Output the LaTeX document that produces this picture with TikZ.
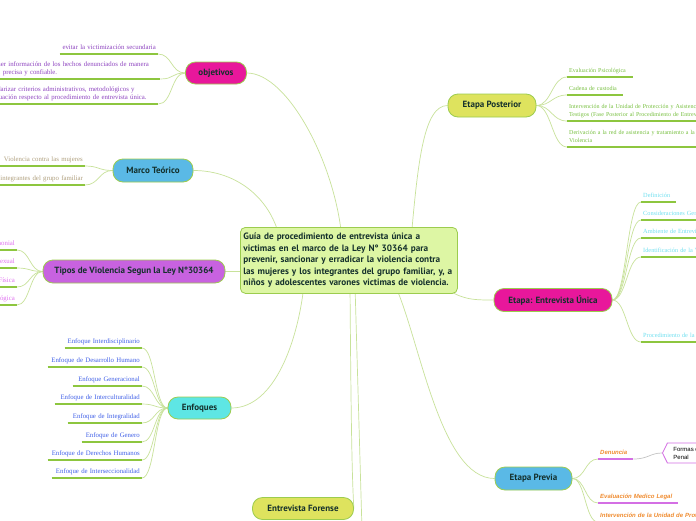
\documentclass[tikz,border=0pt]{standalone}
\usepackage{fontspec}
\setmainfont{Liberation Serif}
\newfontfamily\nodefont{PT Sans}
\newfontfamily\leaffont{Liberation Serif}
\newfontfamily\sansleaf{Liberation Sans}
\usetikzlibrary{shapes.symbols}
\definecolor{edgec}{HTML}{C8E29A}
\definecolor{ulc}{HTML}{8DC63F}
\definecolor{ulpurple}{HTML}{D46FE4}
\definecolor{nbord}{HTML}{9CCC4E}
\definecolor{ntext}{HTML}{14302C}
\definecolor{cfill}{HTML}{DDF6A4}
\definecolor{magentaC}{HTML}{E8179B}
\definecolor{blueC}{HTML}{5AB9E6}
\definecolor{purpleC}{HTML}{C862E0}
\definecolor{cyanC}{HTML}{5EE6E4}
\definecolor{yellowC}{HTML}{DEE35E}
\definecolor{tpurple}{HTML}{8E44C0}
\definecolor{ttan}{HTML}{B0A07E}
\definecolor{tpink}{HTML}{E070F0}
\definecolor{tblue}{HTML}{4060E8}
\definecolor{tgreen}{HTML}{78C040}
\definecolor{tcyan}{HTML}{70E0F0}
\definecolor{torange}{HTML}{F08C30}
\definecolor{greyc}{HTML}{C4C4C4}
\pgfdeclarelayer{bg}
\pgfsetlayers{bg,main}
\tikzset{
  conn/.style={draw=edgec, line width=0.7pt},
  uline/.style={draw=ulc, line width=1.6pt},
  mainnode/.style={draw=nbord, line width=0.8pt, rounded corners=10pt,
    font=\nodefont\bfseries\fontsize{9}{11}\selectfont, text=ntext,
    inner sep=0pt, minimum height=22pt},
  leaf/.style={font=\leaffont\fontsize{6.8}{8}\selectfont, inner xsep=2pt,
    inner ysep=2pt, execute at end node={\strut},
    append after command={(\tikzlastnode.south west) edge[uline] (\tikzlastnode.south east)}},
  lleaf/.style={leaf, anchor=south east, align=right, text width=#1},
  rleaf/.style={leaf, anchor=south west, align=left, text width=#1},
  lbleaf/.style={leaf, anchor=south west, align=left, text width=#1},
  gfont/.style={font=\leaffont\fontsize{6}{7.6}\selectfont},
  cfont/.style={font=\leaffont\fontsize{6.3}{7.6}\selectfont},
  pleaf/.style={font=\sansleaf\bfseries\itshape\fontsize{6}{7.5}\selectfont,
    text=torange, inner xsep=2pt, inner ysep=2pt, execute at end node={\strut},
    anchor=south west, align=left, text width=#1,
    append after command={(\tikzlastnode.south west) edge[uline, draw=ulpurple] (\tikzlastnode.south east)}},
}
\begin{document}
\begin{tikzpicture}[x=1pt,y=-1pt]
\useasboundingbox (0,0) rectangle (696,520);
\clip (0,0) rectangle (696,520);

% central node
\node[draw=nbord, line width=0.8pt, fill=cfill, rounded corners=5pt, anchor=north west,
  minimum width=217pt, minimum height=66pt, inner sep=3pt, text width=211pt, align=left,
  font=\nodefont\bfseries\fontsize{9.2}{11.5}\selectfont, text=ntext] (c) at (240,227)
  {Guía de procedimiento de entrevista única a\\
   victimas en el marco de la Ley N° 30364 para\\
   prevenir, sancionar y erradicar la violencia contra\\
   las mujeres y los integrantes del grupo familiar, y, a\\
   niños y adolescentes varones victimas de violencia.};

% main nodes
\node[mainnode, fill=magentaC, minimum width=61pt] (obj) at (216,73) {objetivos};
\node[mainnode, fill=blueC, minimum width=80pt, minimum height=23pt] (marco) at (153,170.5) {Marco Teórico};
\node[mainnode, fill=purpleC, minimum width=182pt, minimum height=23pt] (tipos) at (134,271.5) {Tipos de Violencia Segun la Ley N°30364};
\node[mainnode, fill=cyanC, minimum width=63pt] (enf) at (199.5,408) {Enfoques};
\node[mainnode, fill=yellowC, minimum width=101pt] (for) at (303,508.5) {Entrevista Forense};
\node[mainnode, fill=yellowC, minimum width=88pt, minimum height=23pt] (post) at (492,105.5) {Etapa Posterior};
\node[mainnode, fill=magentaC, minimum width=118pt, minimum height=23pt] (uni) at (553,300) {Etapa: Entrevista Única};
\node[mainnode, fill=blueC, minimum width=77pt, minimum height=23pt] (prev) at (533.5,478.5) {Etapa Previa};

% inner start points of connectors
\coordinate (cObj) at (342,240);
\coordinate (cMarco) at (280,240);
\coordinate (cEnf) at (304,285);
\coordinate (cFor) at (350,285);
\coordinate (cOff) at (355,285);
\coordinate (offEnd) at (362,530);
\coordinate (cPrev) at (395,285);
\coordinate (cUni) at (440,285);
\coordinate (cPost) at (411,240);

% objetivos leaves
\node[lleaf=94pt, text=tpurple] (o1) at (158,54) {evitar la victimización secundaria};
\node[lbleaf=174pt, text=tpurple] (o2) at (-18,79) {Obtener información de los hechos denunciados de manera\\ veraz, precisa y confiable.};
\node[lbleaf=174pt, text=tpurple] (o3) at (-20,104) {Estandarizar criterios administrativos, metodológicos y\\ de actuación respecto al procedimiento de entrevista única.};

% marco leaves
\node[lleaf=150pt, text=ttan] (m1) at (85,166) {Violencia contra las mujeres};
\node[lleaf=150pt, text=ttan] (m2) at (85,185) {Violencia contra los integrantes del grupo familiar};

% tipos leaves
\node[lleaf=120pt, text=tpink] (t1) at (17,250) {Violencia Económica o Patrimonial};
\node[lleaf=120pt, text=tpink] (t2) at (17,268) {Violencia Sexual};
\node[lleaf=120pt, text=tpink] (t3) at (17,287) {Violencia Física};
\node[lleaf=120pt, text=tpink] (t4) at (17,305) {Violencia Psicológica};

% enfoques leaves
\node[lleaf=73pt, text=tblue] (e1) at (142,348) {Enfoque Interdisciplinario};
\node[lleaf=90pt, text=tblue] (e2) at (142,367) {Enfoque de Desarrollo Humano};
\node[lleaf=65pt, text=tblue] (e3) at (142,386) {Enfoque Generacional};
\node[lleaf=83pt, text=tblue] (e4) at (142,404) {Enfoque de Interculturalidad};
\node[lleaf=70pt, text=tblue] (e5) at (142,423) {Enfoque de Integralidad};
\node[lleaf=56pt, text=tblue] (e6) at (142,442) {Enfoque de Genero};
\node[lleaf=90pt, text=tblue] (e7) at (142,460) {Enfoque de Derechos Humanos};
\node[lleaf=86pt, text=tblue] (e8) at (142,478) {Enfoque de Interseccionalidad};

% posterior leaves
\node[rleaf=62pt, gfont, text=tgreen] (p1) at (567,77) {Evaluación Psicológica};
\node[rleaf=52pt, gfont, text=tgreen] (p2) at (567,95) {Cadena de custodia};
\node[rleaf=220pt, gfont, text=tgreen] (p3) at (567,121) {Intervención de la Unidad de Protección y Asistencia a Víctimas y\\ Testigos (Fase Posterior al Procedimiento de Entrevista Única)};
\node[rleaf=220pt, gfont, text=tgreen] (p4) at (567,147) {Derivación a la red de asistencia y tratamiento a la Víctima de\\ Violencia};

% entrevista unica leaves
\node[rleaf=31pt, cfont, text=tcyan] (u1) at (641,202) {Definición};
\node[rleaf=110pt, cfont, text=tcyan] (u2) at (641,220) {Consideraciones Generales};
\node[rleaf=110pt, cfont, text=tcyan] (u3) at (641,238) {Ambiente de Entrevista};
\node[rleaf=110pt, cfont, text=tcyan] (u4) at (641,257) {Identificación de la Víctima};
\node[rleaf=140pt, cfont, text=tcyan] (u5) at (641,342) {Procedimiento de la Entrevista Única};

% etapa previa leaves
\node[pleaf=31pt] (d1) at (598,459) {Denuncia};
\node[pleaf=76pt] (d2) at (598,503) {Evaluación Medico Legal};
\node[pleaf=320pt] (d3) at (598,522) {Intervención de la Unidad de Protección y Asistencia a Víctimas y Testigos};
\node[shape=signal, signal to=west and east, signal pointer angle=127, draw=ulpurple, line width=0.8pt,
  fill=white, anchor=west, minimum height=20pt, inner xsep=6pt, inner ysep=2pt, align=left,
  font=\sansleaf\fontsize{6}{8}\selectfont, text=black] (form) at (662,453)
  {Formas de Inicio del Proceso\\Penal};

\begin{pgfonlayer}{bg}
\fill[white] (0,0) rectangle (696,520);
% central to main
\draw[conn] (obj.east) .. controls (288,73) and (336,165) .. (cObj);
\draw[conn] (marco.east) .. controls (238,170.5) and (272,200) .. (cMarco);
\draw[conn] (tipos.east) -- (c.west |- tipos.east);
\draw[conn] (enf.east) .. controls (275,408) and (298,340) .. (cEnf);
\draw[conn] (cFor) .. controls (351,420) and (352,480) .. (for.east);
\draw[conn] (cOff) -- (offEnd);
\draw[conn] (cPrev) .. controls (420,340) and (440,478.5) .. (prev.west);
\draw[conn] (cUni) .. controls (462,300) and (472,300) .. (uni.west);
\draw[conn] (cPost) .. controls (418,160) and (424,105.5) .. (post.west);
% leaves
\foreach \n in {o1,o2,o3}
  \draw[conn] (obj.west) .. controls +(-14,0) and +(14,0) .. (\n.south east);
\foreach \n in {m1,m2}
  \draw[conn] (marco.west) .. controls +(-14,0) and +(14,0) .. (\n.south east);
\foreach \n in {t1,t2,t3,t4}
  \draw[conn] (tipos.west) .. controls +(-13,0) and +(13,0) .. (\n.south east);
\foreach \n in {e1,e2,e3,e4,e5,e6,e7,e8}
  \draw[conn] (enf.west) .. controls +(-13,0) and +(13,0) .. (\n.south east);
\foreach \n in {p1,p2,p3,p4}
  \draw[conn] (post.east) .. controls +(15,0) and +(-15,0) .. (\n.south west);
\foreach \n in {u1,u2,u3,u4,u5}
  \draw[conn] (uni.east) .. controls +(14,0) and +(-14,0) .. (\n.south west);
\foreach \n in {d1,d2,d3}
  \draw[conn] (prev.east) .. controls +(13,0) and +(-13,0) .. (\n.south west);
\draw[draw=greyc, line width=0.7pt] (d1.south east) .. controls +(15,0) and +(-12,0) .. (form.west);
\end{pgfonlayer}
\end{tikzpicture}
\end{document}
